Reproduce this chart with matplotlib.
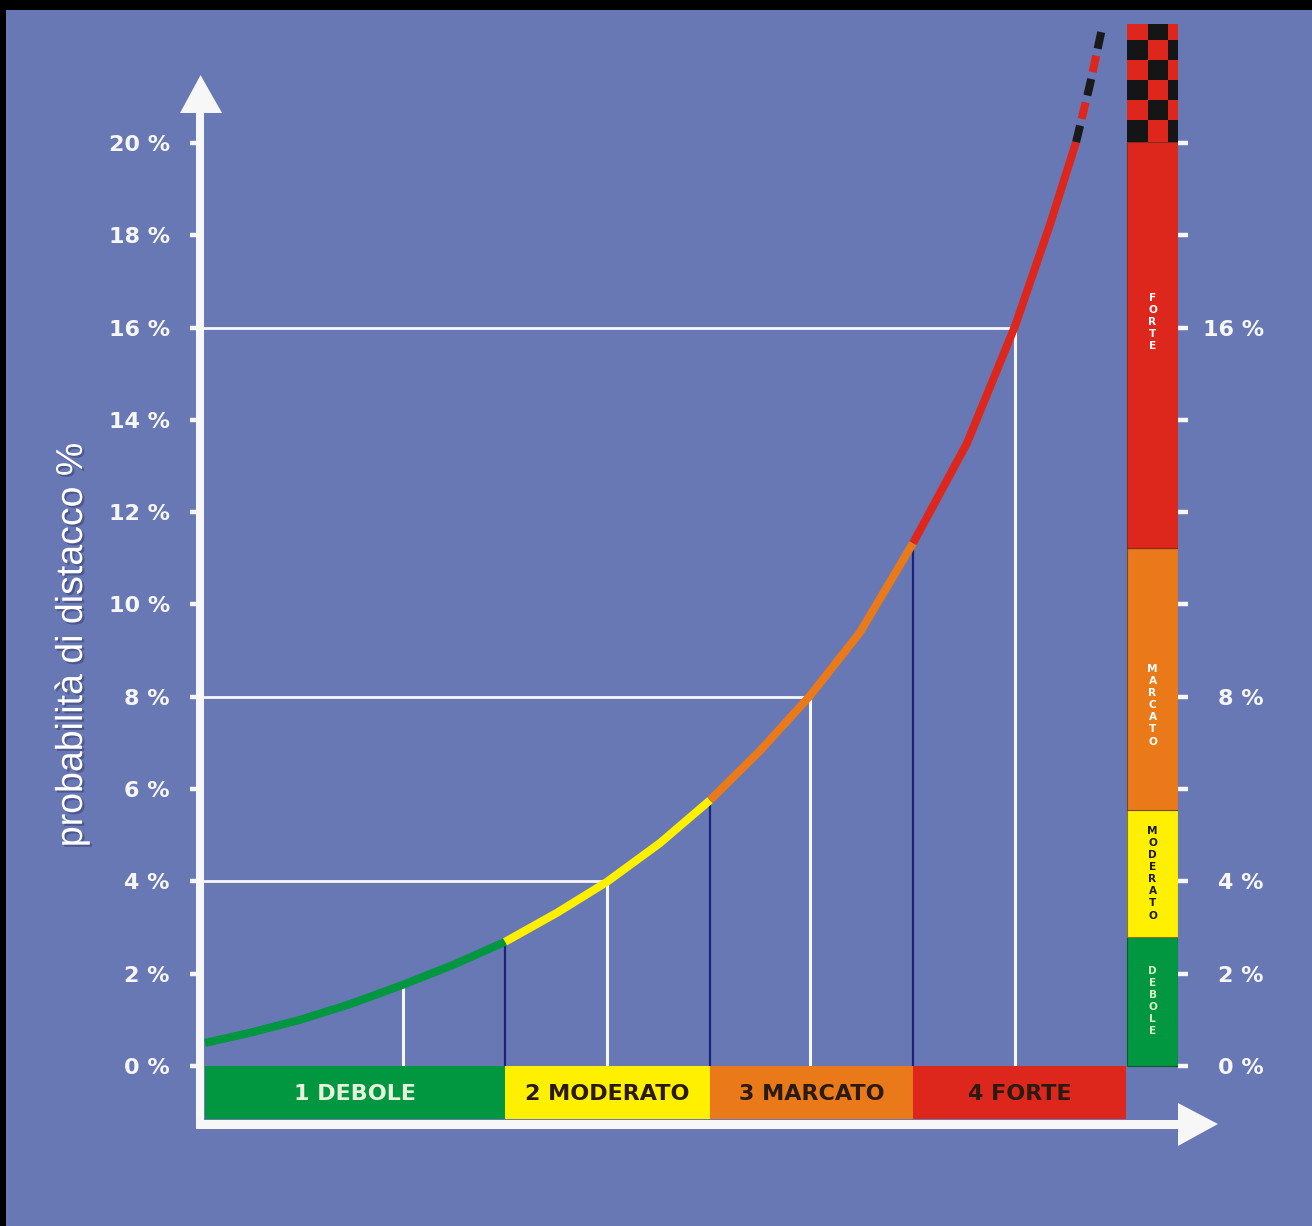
import matplotlib
matplotlib.use('Agg')
import matplotlib.pyplot as plt
from matplotlib.patches import Rectangle, Polygon
from matplotlib.colors import ListedColormap
import matplotlib.patheffects as pe
import numpy as np

plt.rcParams['lines.scale_dashes'] = False

# ---------------- data ----------------
curve_x = [0.0, 0.222, 0.468, 0.714, 0.975, 1.222, 1.478, 1.734, 1.980, 2.241,
           2.488, 2.734, 2.980, 3.227, 3.488, 3.754, 3.990, 4.163, 4.291]
curve_y = [0.50, 0.72, 1.00, 1.34, 1.76, 2.19, 2.69, 3.32, 3.99, 4.83,
           5.76, 6.83, 8.02, 9.40, 11.33, 13.50, 16.03, 18.24, 20.02]
segment_bounds = [0, 6, 10, 14, 18]          # curve index where each level starts/ends
extrap_x = [4.291, 4.36, 4.419]
extrap_y = [20.02, 21.28, 22.49]

guide_idx = [4, 6, 8, 10, 12, 14, 16]
guide_kind = ['white', 'navy', 'white', 'navy', 'white', 'navy', 'white']
hline_vals = [4, 8, 16]
hline_ends = [1.980, 2.980, 3.990]

level_labels = ['1 DEBOLE', '2 MODERATO', '3 MARCATO', '4 FORTE']
level_edges = [0.0, 1.478, 2.488, 3.488, 4.537]

scale_labels = ['DEBOLE', 'MODERATO', 'MARCATO', 'FORTE']
scale_edges = [0.0, 2.80, 5.55, 11.22, 20.02]
scale_label_y = [1.41, 4.18, 7.82, 16.12]
checker_y = [20.02, 20.50, 20.93, 21.36, 21.80, 22.23, 22.58]
checker_x = [4.542, 4.645, 4.744, 4.793]
checker_pattern = [[1, 0, 1], [0, 1, 0], [1, 0, 1], [0, 1, 0], [1, 0, 1], [0, 1, 0]]

yticks = list(range(0, 21, 2))
left_ticklabels = [f'{v} %' for v in yticks]
right_labelled = [0, 2, 4, 8, 16]

# ---------------- style ----------------
BG = '#6878b5'
GREEN = '#019640'
YELLOW = '#fff000'
ORANGE = '#ea7a19'
RED = '#dd271d'
NAVY = '#1b2478'
WHITE = '#f7f7f7'
level_colors = [GREEN, YELLOW, ORANGE, RED]
level_text_colors = ['#e6f4dc', '#2a1a10', '#2a1a10', '#2a1a10']
scale_text_colors = ['#d9f2c8', '#1a1a1a', '#ffffff', '#ffffff']
scale_edge_colors = ['#0b5a2a', '#8a7a10', '#7a4a1a', '#8a2a1a']

W, H = 1312, 1226
fig = plt.figure(figsize=(W / 100, H / 100), dpi=100, facecolor='black')
fig.patches.append(Rectangle((6 / W, 0), 1, (H - 9.5) / H, transform=fig.transFigure,
                             facecolor=BG, edgecolor='none', zorder=-10))

ax = fig.add_axes([200 / W, 0, (1178 - 200) / W, 1])
ax.patch.set_visible(False)
for s in ax.spines.values():
    s.set_visible(False)
ax.set_xlim(-0.0246, 4.793)
ax.set_ylim(-3.467, 23.098)
ax.set_xticks([])

# left ticks
ax.set_yticks(yticks)
ax.set_yticklabels(left_ticklabels)
ax.tick_params(axis='y', direction='out', length=7.2, width=3.2, color=WHITE,
               labelcolor=WHITE, pad=14.4, labelsize=16)
for t in ax.get_yticklabels():
    t.set_fontweight('bold')

# right ticks
axr = ax.twinx()
axr.patch.set_visible(False)
for s in axr.spines.values():
    s.set_visible(False)
axr.set_ylim(ax.get_ylim())
axr.set_yticks(yticks)
axr.set_yticklabels([f'{v} %' if v in right_labelled else '' for v in yticks])
axr.tick_params(axis='y', direction='out', length=7.2, width=3.2, color=WHITE,
                labelcolor=WHITE, pad=54.5, labelsize=16)
for t in axr.get_yticklabels():
    t.set_fontweight('bold')
    t.set_horizontalalignment('right')

# axis lines with arrows
x_left = -0.0246
y_bot = -1.257
ax.plot([x_left, x_left], [-1.36, 20.7], color=WHITE, lw=5.8, solid_capstyle='butt',
        clip_on=False, zorder=5)
ax.add_patch(Polygon([(-0.123, 20.65), (0.084, 20.65), (-0.022, 21.47)], closed=True,
                     facecolor=WHITE, edgecolor='none', clip_on=False, zorder=5))
ax.plot([-0.039, 4.84], [y_bot, y_bot], color=WHITE, lw=6.5, solid_capstyle='butt',
        clip_on=False, zorder=5)
ax.add_patch(Polygon([(4.793, -0.802), (4.793, -1.733), (4.99, -1.257)], closed=True,
                     facecolor=WHITE, edgecolor='none', clip_on=False, zorder=5))

# level bars at bottom
for i, lab in enumerate(level_labels):
    x0, x1 = level_edges[i], level_edges[i + 1]
    ax.bar(x0, -1.148, width=x1 - x0, bottom=0, align='edge', color=level_colors[i],
           edgecolor='none', zorder=3)
    ax.text((x0 + x1) / 2, -0.61, lab, ha='center', va='center', fontsize=16,
            fontweight='bold', color=level_text_colors[i], zorder=4)

# guide lines
for idx, kind in zip(guide_idx, guide_kind):
    ax.plot([curve_x[idx], curve_x[idx]], [0, curve_y[idx]],
            color=WHITE if kind == 'white' else NAVY,
            lw=2.2 if kind == 'white' else 1.6, zorder=2)
for v, xe in zip(hline_vals, hline_ends):
    ax.plot([x_left, xe], [v, v], color=WHITE, lw=2.0, zorder=2)

# curve segments
for i in range(4):
    a, b = segment_bounds[i], segment_bounds[i + 1]
    ax.plot(curve_x[a:b + 1], curve_y[a:b + 1], color=level_colors[i], lw=5.8,
            solid_capstyle='butt', solid_joinstyle='round', zorder=6)
# dashed extrapolation
ax.plot(extrap_x, extrap_y, color='#1a1a1a', lw=5.8, linestyle=(0, (12.2, 22.3)),
        dash_capstyle='butt', zorder=6, clip_on=False)
ax.plot(extrap_x, extrap_y, color=RED, lw=5.8, linestyle=(17.3, (12.2, 22.3)),
        dash_capstyle='butt', zorder=6, clip_on=False)

# right scale bar
xb0, xb1 = checker_x[0], checker_x[-1]
for i, lab in enumerate(scale_labels):
    y0, y1 = scale_edges[i], scale_edges[i + 1]
    ax.bar(xb0, y1 - y0, width=xb1 - xb0, bottom=y0, align='edge',
           color=level_colors[i], edgecolor=scale_edge_colors[i], linewidth=0.8, zorder=3)
    ax.text((xb0 + xb1) / 2, scale_label_y[i], '\n'.join(lab), ha='center', va='center',
            multialignment='center', fontsize=7.6, fontweight='bold', linespacing=1.27,
            color=scale_text_colors[i], zorder=4)
ax.pcolormesh(checker_x, checker_y, np.array(checker_pattern),
              cmap=ListedColormap([RED, '#151515']), vmin=0, vmax=1, zorder=3)

# y axis title
fig.text(72 / W, 1 - 645 / H, 'probabilità di distacco %', rotation=90, ha='center',
         va='center', fontsize=27, color='white', family='Liberation Sans',
         path_effects=[pe.withSimplePatchShadow(offset=(1.5, -1.5), shadow_rgbFace='#3a4070',
                                                alpha=0.6)])

fig.savefig('out.png', dpi=100, facecolor='black')
